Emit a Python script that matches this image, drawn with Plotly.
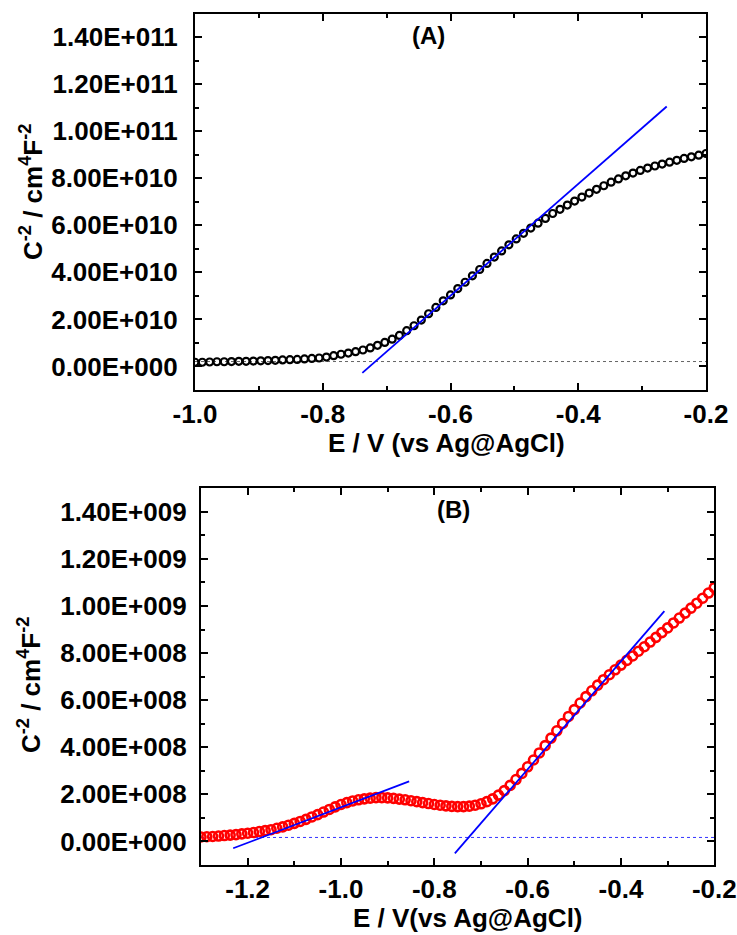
import numpy as np
import plotly.graph_objects as go

# ---------------- data ----------------
# Panel A : E (V) grid and C^-2 values (units of 1e10 cm^4 F^-2)
a_E = np.round(np.linspace(-1.0, -0.2, 71), 4)
a_C2 = [0.18, 0.18, 0.19, 0.20, 0.20, 0.21, 0.22, 0.22, 0.23, 0.24,
        0.25, 0.26, 0.28, 0.29, 0.30, 0.32, 0.34, 0.36, 0.40, 0.46,
        0.52, 0.57, 0.63, 0.70, 0.79, 0.90, 1.02, 1.16, 1.32, 1.52,
        1.73, 1.97, 2.24, 2.51, 2.79, 3.04, 3.31, 3.58, 3.85, 4.12,
        4.38, 4.65, 4.91, 5.17, 5.42, 5.66, 5.88, 6.09, 6.29, 6.50,
        6.68, 6.86, 7.03, 7.20, 7.37, 7.53, 7.68, 7.83, 7.97, 8.10,
        8.22, 8.33, 8.43, 8.52, 8.60, 8.68, 8.76, 8.84, 8.91, 8.98, 9.05]
a_scale = 1e10
a_fit_E = [-0.738, -0.2615]
a_fit_C2 = [-0.27, 11.05]
a_base = 0.21

# Panel B : E (V) grid and C^-2 values (units of 1e8 cm^4 F^-2)
b_E = np.round(np.linspace(-1.3, -0.2, 89), 4)
b_C2 = [0.19, 0.20, 0.21, 0.23, 0.25, 0.27, 0.29, 0.32, 0.35, 0.38,
        0.42, 0.46, 0.50, 0.56, 0.62, 0.69, 0.77, 0.85, 0.94, 1.04,
        1.14, 1.25, 1.36, 1.47, 1.57, 1.65, 1.72, 1.77, 1.81, 1.84,
        1.86, 1.86, 1.85, 1.83, 1.80, 1.77, 1.73, 1.69, 1.65, 1.61,
        1.57, 1.54, 1.51, 1.49, 1.48, 1.48, 1.50, 1.54, 1.60, 1.69,
        1.81, 1.97, 2.16, 2.38, 2.63, 2.89, 3.17, 3.46, 3.76, 4.07,
        4.39, 4.70, 5.01, 5.31, 5.60, 5.88, 6.15, 6.40, 6.64, 6.87,
        7.08, 7.29, 7.49, 7.69, 7.88, 8.08, 8.27, 8.47, 8.67, 8.87,
        9.07, 9.28, 9.49, 9.70, 9.91, 10.12, 10.33, 10.55, 10.78]
b_scale = 1e8
b_fit1_E = [-1.231, -0.854]
b_fit1_C2 = [-0.29, 2.55]
b_fit2_E = [-0.756, -0.307]
b_fit2_C2 = [-0.51, 9.78]
b_base = 0.17

a_yticks = [0, 2e10, 4e10, 6e10, 8e10, 1e11, 1.2e11, 1.4e11]
a_yticktext = ["0.00E+000", "2.00E+010", "4.00E+010", "6.00E+010",
               "8.00E+010", "1.00E+011", "1.20E+011", "1.40E+011"]
b_yticks = [0, 2e8, 4e8, 6e8, 8e8, 1e9, 1.2e9, 1.4e9]
b_yticktext = ["0.00E+000", "2.00E+008", "4.00E+008", "6.00E+008",
               "8.00E+008", "1.00E+009", "1.20E+009", "1.40E+009"]
a_xticks = [-1.0, -0.8, -0.6, -0.4, -0.2]
a_xticktext = ["-1.0", "-0.8", "-0.6", "-0.4", "-0.2"]
b_xticks = [-1.2, -1.0, -0.8, -0.6, -0.4, -0.2]
b_xticktext = ["-1.2", "-1.0", "-0.8", "-0.6", "-0.4", "-0.2"]

# ---------------- figure ----------------
W, H = 737, 935
fig = go.Figure()

# Panel A
fig.add_trace(go.Scatter(x=[-1.0, -0.2], y=[a_base * a_scale] * 2, mode="lines",
                         line=dict(color="#666666", width=1, dash="dot"),
                         xaxis="x", yaxis="y", hoverinfo="skip"))
fig.add_trace(go.Scatter(x=a_E, y=np.array(a_C2) * a_scale, mode="markers",
                         marker=dict(symbol="circle-open", size=7, color="black",
                                     line=dict(width=2.2, color="black")),
                         xaxis="x", yaxis="y", cliponaxis=True))
fig.add_trace(go.Scatter(x=a_fit_E, y=np.array(a_fit_C2) * a_scale, mode="lines",
                         line=dict(color="#0000ff", width=1.8), xaxis="x", yaxis="y"))

# Panel B
fig.add_trace(go.Scatter(x=[-1.3, -0.2], y=[b_base * b_scale] * 2, mode="lines",
                         line=dict(color="#3333ff", width=1, dash="dot"),
                         xaxis="x2", yaxis="y2", hoverinfo="skip"))
fig.add_trace(go.Scatter(x=b_E, y=np.array(b_C2) * b_scale, mode="markers",
                         marker=dict(symbol="circle-open", size=9, color="#ff0000",
                                     line=dict(width=2.6, color="#ff0000")),
                         xaxis="x2", yaxis="y2", cliponaxis=True))
fig.add_trace(go.Scatter(x=b_fit1_E, y=np.array(b_fit1_C2) * b_scale, mode="lines",
                         line=dict(color="#0000ff", width=1.8), xaxis="x2", yaxis="y2"))
fig.add_trace(go.Scatter(x=b_fit2_E, y=np.array(b_fit2_C2) * b_scale, mode="lines",
                         line=dict(color="#0000ff", width=1.8), xaxis="x2", yaxis="y2"))

FONT = "Liberation Sans, Arial, sans-serif"
tickfont = dict(family=FONT, size=26, color="black", weight="bold")
common = dict(showline=True, linecolor="black", linewidth=2.2, mirror="allticks",
              ticks="inside", ticklen=7, tickwidth=1.6, tickcolor="black",
              showgrid=False, zeroline=False, tickfont=tickfont, automargin=False,
              minor=dict(ticks="inside", ticklen=4, tickwidth=1.6, tickcolor="black"))


def px(x):
    return x / W


def py(y):
    return 1 - y / H


fig.update_layout(
    width=W, height=H,
    margin=dict(l=0, r=0, t=0, b=0, autoexpand=False),
    paper_bgcolor="white", plot_bgcolor="white",
    showlegend=False,
    xaxis=dict(domain=[px(195), px(706)], range=[-1.0, -0.2], anchor="y",
               tickvals=a_xticks, ticktext=a_xticktext, ticklabelstandoff=0,
               **{**common, "minor": dict(common["minor"], dtick=0.1, tick0=-1.0)}),
    yaxis=dict(domain=[py(390), py(13.5)], range=[-1.0e10, 1.5e11], anchor="x",
               tickvals=a_yticks, ticktext=a_yticktext, ticklabelstandoff=10,
               **{**common, "minor": dict(common["minor"], dtick=1e10, tick0=0)}),
    xaxis2=dict(domain=[px(201), px(714.3)], range=[-1.3, -0.2], anchor="y2",
                tickvals=b_xticks, ticktext=b_xticktext, ticklabelstandoff=0,
                **{**common, "minor": dict(common["minor"], dtick=0.1, tick0=-1.3)}),
    yaxis2=dict(domain=[py(865), py(488.3)], range=[-1.0e8, 1.5e9], anchor="x2",
                tickvals=b_yticks, ticktext=b_yticktext, ticklabelstandoff=7,
                **{**common, "minor": dict(common["minor"], dtick=1e8, tick0=0)}),
)

tfont = dict(family=FONT, size=26, color="black", weight="bold")
ann = [
    dict(text="E / V (vs Ag@AgCl)", x=px(446), y=py(443)),
    dict(text="E / V(vs Ag@AgCl)", x=px(468), y=py(918)),
    dict(text="C<sup>-2</sup> / cm<sup>4</sup>F<sup>-2</sup>", x=px(32), y=py(192), textangle=-90),
    dict(text="C<sup>-2</sup> / cm<sup>4</sup>F<sup>-2</sup>", x=px(29), y=py(685), textangle=-90),
    dict(text="(A)", x=px(428), y=py(35), size=24),
    dict(text="(B)", x=px(453), y=py(510), size=24),
]
for a in ann:
    size = a.pop("size", 26)
    fig.add_annotation(xref="paper", yref="paper", showarrow=False,
                       xanchor="center", yanchor="middle",
                       font=dict(tfont, size=size), **a)

fig.write_html("out.html")
